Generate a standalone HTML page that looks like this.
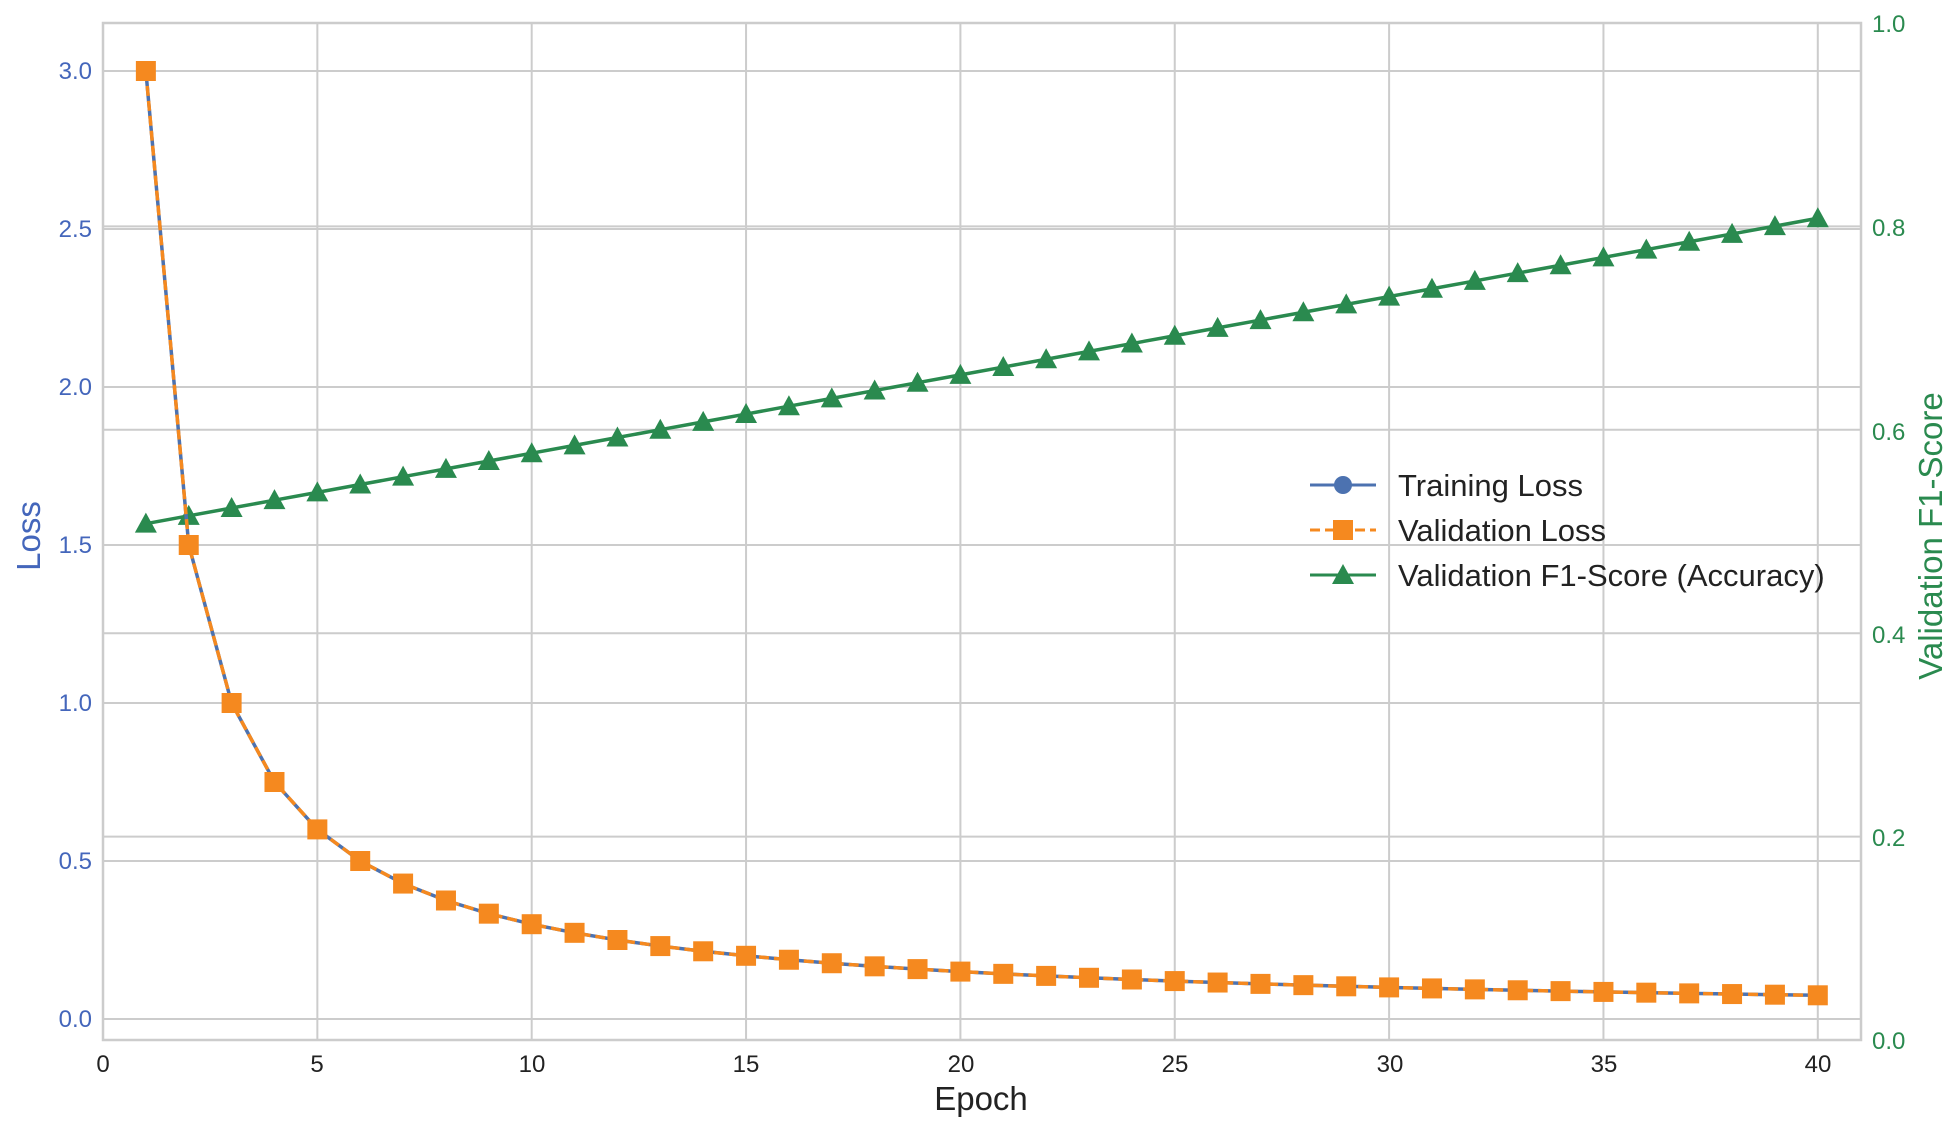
<!DOCTYPE html>
<html><head><meta charset="utf-8"><style>
html,body{margin:0;padding:0;background:#fff;}
svg text{font-family:"Liberation Sans",Arial,sans-serif;}
</style></head><body>
<svg id="s" width="1954" height="1126" xmlns="http://www.w3.org/2000/svg">
<rect width="1954" height="1126" fill="#fff"/>
<g id="grid" stroke="#cccccc" stroke-width="2"></g>
<rect x="103" y="23" width="1758" height="1017" fill="none" stroke="#cccccc" stroke-width="2.5"/>
<g font-size="24" fill="#4466bb" text-anchor="end">
<text x="92" y="79">3.0</text><text x="92" y="237">2.5</text><text x="92" y="395">2.0</text>
<text x="92" y="553">1.5</text><text x="92" y="711">1.0</text><text x="92" y="869">0.5</text><text x="92" y="1027">0.0</text>
</g>
<g font-size="24" fill="#2a8a4f" text-anchor="start">
<text x="1872" y="1049">0.0</text><text x="1872" y="846">0.2</text><text x="1872" y="643">0.4</text>
<text x="1872" y="440">0.6</text><text x="1872" y="236">0.8</text><text x="1872" y="32">1.0</text>
</g>
<g font-size="24" fill="#222" text-anchor="middle">
<text x="103" y="1072">0</text><text x="317" y="1072">5</text><text x="532" y="1072">10</text>
<text x="746" y="1072">15</text><text x="961" y="1072">20</text><text x="1175" y="1072">25</text>
<text x="1390" y="1072">30</text><text x="1604" y="1072">35</text><text x="1818" y="1072">40</text>
</g>
<text x="981" y="1110" font-size="33" fill="#222" text-anchor="middle">Epoch</text>
<text transform="translate(40,536) rotate(-90)" font-size="33" fill="#4466bb" text-anchor="middle">Loss</text>
<text transform="translate(1942,536) rotate(-90)" font-size="33" fill="#2a8a4f" text-anchor="middle">Validation F1-Score</text>
<g id="series"></g>
<g id="legend">
<line x1="1310" y1="485" x2="1376" y2="485" stroke="#4c72b0" stroke-width="3"/>
<circle cx="1343" cy="485" r="9" fill="#4c72b0"/>
<line x1="1310" y1="530" x2="1376" y2="530" stroke="#f5891f" stroke-width="3" stroke-dasharray="10,5"/>
<rect x="1333" y="520" width="20" height="20" fill="#f5891f"/>
<line x1="1310" y1="575" x2="1376" y2="575" stroke="#2a8a4f" stroke-width="3"/>
<polygon points="1343,564 1354,584 1332,584" fill="#2a8a4f"/>
<g font-size="31" fill="#222">
<text x="1398" y="496">Training Loss</text>
<text x="1398" y="541">Validation Loss</text>
<text x="1398" y="586">Validation F1-Score (Accuracy)</text>
</g>
</g>
</svg>
<script>
var NS="http://www.w3.org/2000/svg";
function X(e){return 103+42.87*e;}
function YL(v){return 1019-316*v;}
function YR(v){return 1040-1017*v;}
var g=document.getElementById('grid');
function ln(p,a){var l=document.createElementNS(NS,'line');for(var k in a)l.setAttribute(k,a[k]);p.appendChild(l);return l;}
for(var i=5;i<=40;i+=5)ln(g,{x1:X(i),x2:X(i),y1:23,y2:1040});
for(var v=0;v<=3.01;v+=0.5)ln(g,{x1:103,x2:1861,y1:YL(v),y2:YL(v)});
for(var v=0.2;v<=0.81;v+=0.2)ln(g,{x1:103,x2:1861,y1:YR(v),y2:YR(v)});
var s=document.getElementById('series');
var tl=[],f1=[];
for(var e=1;e<=40;e++){tl.push(X(e)+","+YL(3/e));f1.push(X(e)+","+YR(0.5+0.0077*e));}
function pl(pts,c,d){var p=document.createElementNS(NS,'polyline');p.setAttribute('points',pts.join(' '));p.setAttribute('fill','none');p.setAttribute('stroke',c);p.setAttribute('stroke-width','3.5');if(d)p.setAttribute('stroke-dasharray',d);s.appendChild(p);}
pl(f1,'#2a8a4f');
for(var e=1;e<=40;e++){var x=X(e),y=YR(0.5+0.0077*e);var t=document.createElementNS(NS,'polygon');t.setAttribute('points',x+','+(y-11)+' '+(x+11)+','+(y+9)+' '+(x-11)+','+(y+9));t.setAttribute('fill','#2a8a4f');s.appendChild(t);}
pl(tl,'#4c72b0');
for(var e=1;e<=40;e++){var c=document.createElementNS(NS,'circle');c.setAttribute('cx',X(e));c.setAttribute('cy',YL(3/e));c.setAttribute('r',8);c.setAttribute('fill','#4c72b0');s.appendChild(c);}
pl(tl,'#f5891f','10,5');
for(var e=1;e<=40;e++){var r=document.createElementNS(NS,'rect');r.setAttribute('x',X(e)-10);r.setAttribute('y',YL(3/e)-10);r.setAttribute('width',20);r.setAttribute('height',20);r.setAttribute('fill','#f5891f');s.appendChild(r);}
</script>
</body></html>
